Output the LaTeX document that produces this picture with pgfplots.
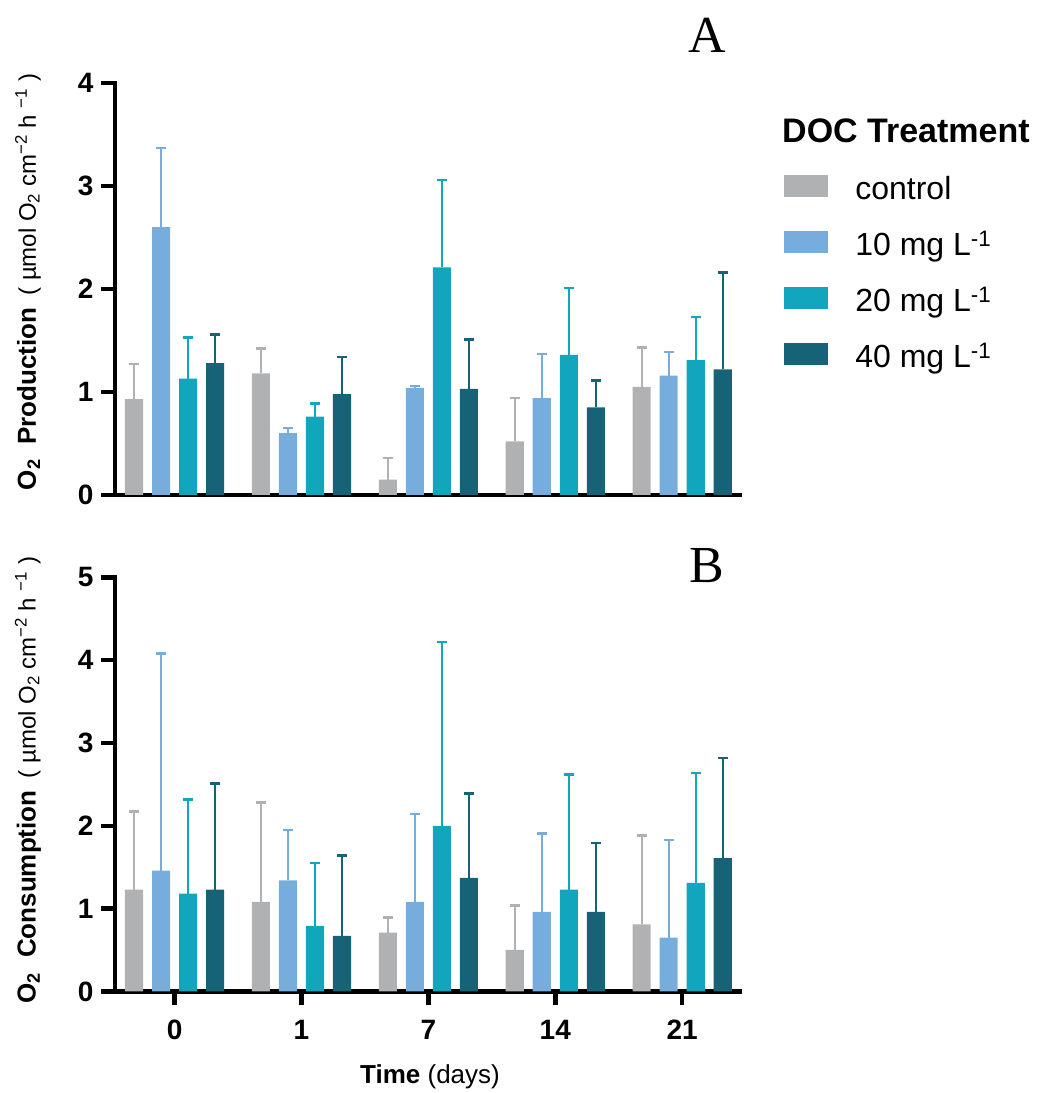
\documentclass[border=0pt]{standalone}
\usepackage{fontspec}
\setmainfont{Liberation Sans}
\newfontfamily\serifA{Liberation Serif}
\usepackage{pgfplots}
\pgfplotsset{compat=1.18}
\usepackage{pgfplotstable}
\definecolor{cctrl}{RGB}{176,177,179}
\definecolor{cten}{RGB}{118,173,220}
\definecolor{ctwenty}{RGB}{18,166,190}
\definecolor{cforty}{RGB}{22,98,118}

% x c ce a ae b be d de  (value, +error)
\pgfplotstableread{
x c ce a ae b be d de
0 0.93 0.34 2.60 0.77 1.13 0.40 1.28 0.28
1 1.18 0.24 0.60 0.05 0.76 0.13 0.98 0.36
2 0.15 0.21 1.04 0.02 2.21 0.85 1.03 0.48
3 0.52 0.42 0.94 0.43 1.36 0.65 0.85 0.26
4 1.05 0.38 1.16 0.23 1.31 0.42 1.22 0.94
}\toptab
\pgfplotstableread{
x c ce a ae b be d de
0 1.23 0.94 1.46 2.62 1.18 1.14 1.23 1.28
1 1.08 1.20 1.34 0.61 0.79 0.76 0.67 0.97
2 0.71 0.18 1.08 1.06 2.00 2.22 1.37 1.02
3 0.50 0.54 0.96 0.95 1.23 1.39 0.96 0.83
4 0.81 1.07 0.65 1.18 1.31 1.33 1.61 1.21
}\bottab

\pgfplotsset{
  panel/.style={
    scale only axis, width=625pt,
    xmin=-0.4695, xmax=4.4555, ymin=0,
    axis x line*=bottom, axis y line*=left,
    axis line style={-, line width=4.5pt, black, line cap=rect},
    tick align=outside, major tick length=14pt,
    tick style={line width=4.5pt, black},
    tick label style={font=\fontsize{28}{30}\selectfont\bfseries},
    yticklabel style={xshift=-4pt},
    xticklabel style={yshift=-11pt},
    /pgf/number format/assume math mode=true,
    clip=false,
  },
  bs/.style={ybar, bar width=0.1425, bar shift=0, fill=#1, draw=none,
    error bars/.cd, y dir=plus, y explicit,
    error bar style={line width=2pt, #1},
    error mark options={rotate=90, line width=2.5pt, mark size=5pt, #1}},
}

\begin{document}
\begin{tikzpicture}
\useasboundingbox (0,0) rectangle (1043pt,1093pt);

% ---- Panel A ----
\begin{axis}[panel, at={(115pt,598pt)}, anchor=south west,
  height=412pt, ymax=4, ytick={0,1,2,3,4}, xtick=\empty,
  legend style={at={(1.0706,0.776)}, anchor=north west, draw=none, fill=none,
    inner sep=0pt, row sep=30pt, font=\fontsize{32}{34}\selectfont,
    cells={anchor=west}, nodes={inner sep=0pt}},
  legend image code/.code={\path[#1, draw=none] (0pt,-9pt) rectangle (44pt,13pt); \path (71pt,0pt);},
]
\addplot[bs=cctrl] table[x expr=\thisrow{x}-0.3195, y=c, y error=ce] {\toptab};
\addlegendentry{control}
\addplot[bs=cten] table[x expr=\thisrow{x}-0.1065, y=a, y error=ae] {\toptab};
\addlegendentry{10 mg L\textsuperscript{-1}}
\addplot[bs=ctwenty] table[x expr=\thisrow{x}+0.1065, y=b, y error=be] {\toptab};
\addlegendentry{20 mg L\textsuperscript{-1}}
\addplot[bs=cforty] table[x expr=\thisrow{x}+0.3195, y=d, y error=de] {\toptab};
\addlegendentry{40 mg L\textsuperscript{-1}}
\end{axis}

% ---- Panel B ----
\begin{axis}[panel, at={(115pt,101.6pt)}, anchor=south west,
  height=414pt, ymax=5, ytick={0,1,2,3,4,5},
  xtick={0,1,2,3,4}, xticklabels={0,1,7,14,21},
]
\addplot[bs=cctrl] table[x expr=\thisrow{x}-0.3195, y=c, y error=ce] {\bottab};
\addplot[bs=cten] table[x expr=\thisrow{x}-0.1065, y=a, y error=ae] {\bottab};
\addplot[bs=ctwenty] table[x expr=\thisrow{x}+0.1065, y=b, y error=be] {\bottab};
\addplot[bs=cforty] table[x expr=\thisrow{x}+0.3195, y=d, y error=de] {\bottab};
\end{axis}

% ---- labels ----
\node[anchor=base west, inner sep=0pt, font=\fontsize{34}{36}\selectfont\bfseries] at (782pt,950pt) {DOC Treatment};
\node[font=\fontsize{52}{54}\selectfont\serifA] at (707pt,1058pt) {A};
\node[font=\fontsize{52}{54}\selectfont\serifA] at (707pt,527pt) {B};
\node[rotate=90, inner sep=0pt] at (28pt,811pt) {{\fontsize{26}{28}\selectfont\bfseries O\textsubscript{2}\ \ Production}\hspace{12pt}{\fontsize{24}{26}\selectfont( µmol O\textsubscript{2} cm\textsuperscript{−2} h \textsuperscript{−1} )}};
\node[rotate=90, inner sep=0pt] at (28pt,313pt) {{\fontsize{26}{28}\selectfont\bfseries O\textsubscript{2}\ \ Consumption}\hspace{12pt}{\fontsize{24}{26}\selectfont( µmol O\textsubscript{2} cm\textsuperscript{−2} h \textsuperscript{−1} )}};
\node[inner sep=0pt, font=\fontsize{26}{28}\selectfont] at (430pt,16pt) {\textbf{Time} (days)};
\end{tikzpicture}
\end{document}
